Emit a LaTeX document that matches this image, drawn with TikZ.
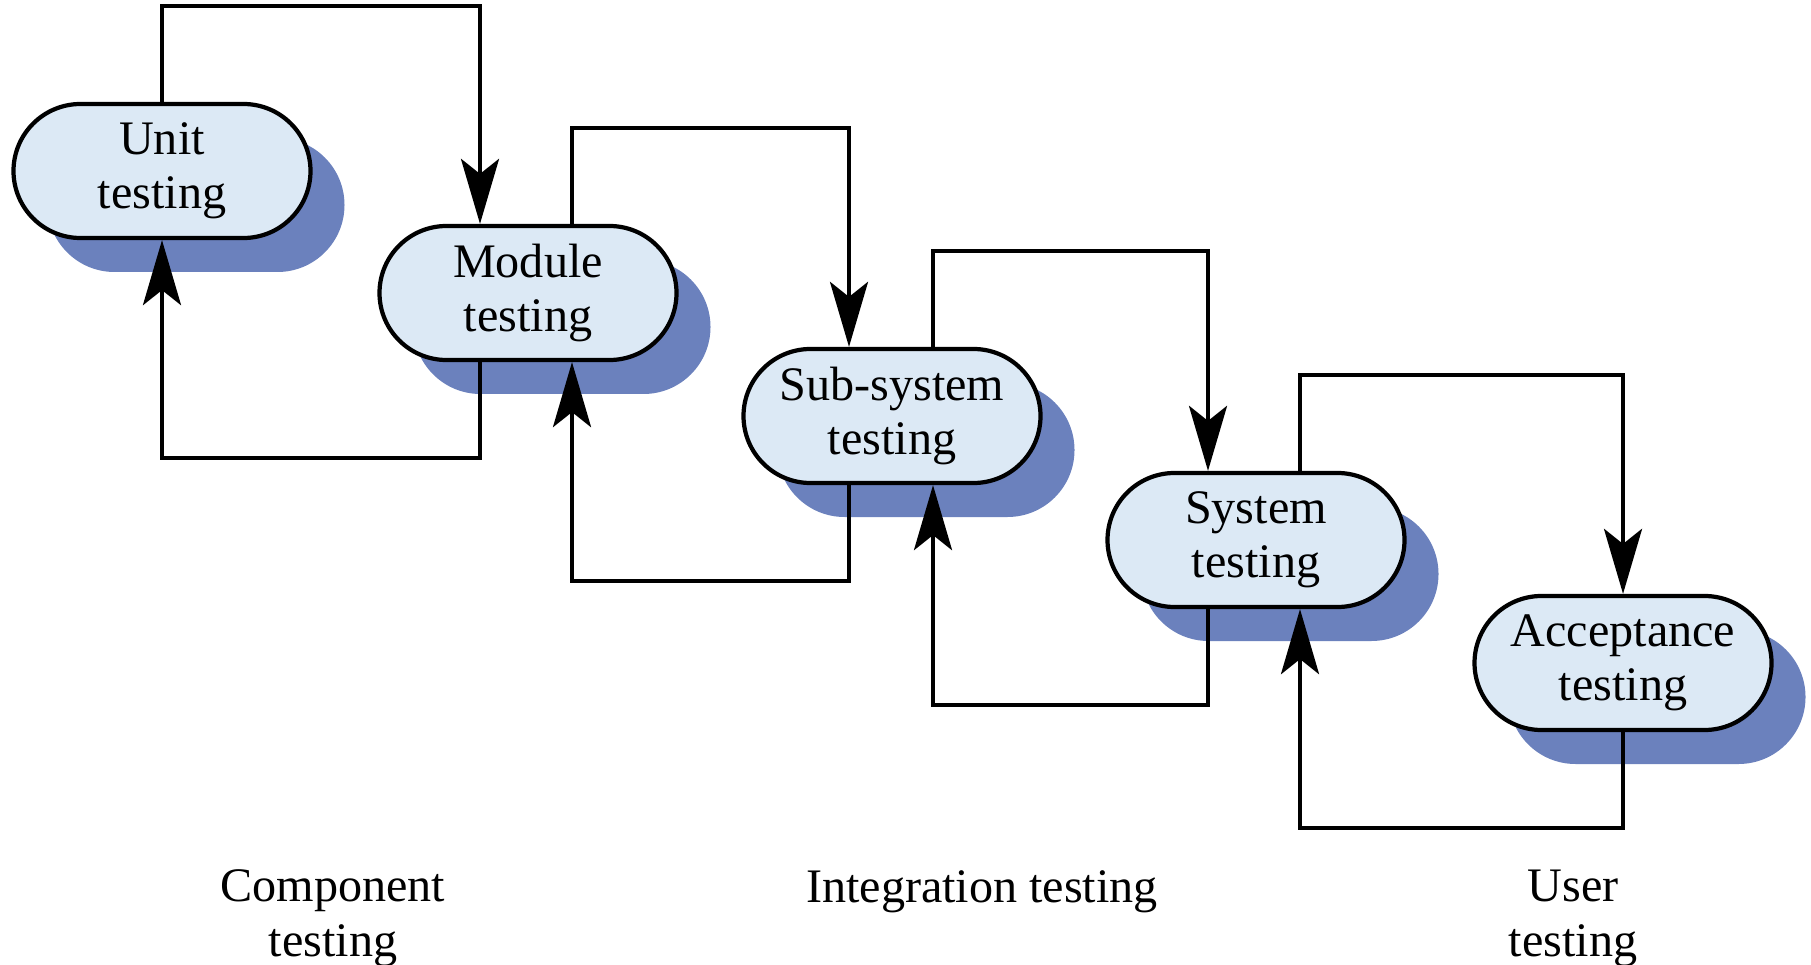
\documentclass[tikz,border=0pt]{standalone}
\usepackage{fontspec}
\setmainfont{Liberation Serif}
\usetikzlibrary{arrows.meta,shadows}

\definecolor{stagefill}{RGB}{220,233,245}
\definecolor{stageshadow}{RGB}{107,129,189}

\tikzset{
  stage/.style={draw, line width=1.2pt, fill=stagefill, rectangle,
    rounded corners=6.7mm, minimum width=29.7mm, minimum height=13.4mm,
    align=center, font=\fontsize{13.7}{15.4}\selectfont,
    drop shadow={shadow xshift=3.4mm, shadow yshift=-3.4mm,
      fill=stageshadow, opacity=1}},
  flow/.style={line width=1.2pt, -{Stealth[length=6.5mm, width=3.8mm, inset=1.5mm]}},
  phase/.style={align=center, font=\fontsize{13.7}{15.4}\selectfont}
}

\begin{document}
\begin{tikzpicture}
    \useasboundingbox (0,0) rectangle (18.11,-9.65);

    % testing stages
    \node[stage] (unit) at (1.62,-1.71) {Unit\\testing};
    \node[stage] (module) at (5.28,-2.93) {Module\\testing};
    \node[stage] (subsys) at (8.92,-4.16) {Sub-system\\testing};
    \node[stage] (system) at (12.56,-5.40) {System\\testing};
    \node[stage] (accept) at (16.23,-6.63) {Acceptance\\testing};

    % forward to the next stage
    \draw[flow] (unit.north) -- ++(0,0.96) -| ([xshift=-4.8mm]module.north);
    \draw[flow] ([xshift=4.4mm]module.north) -- ++(0,0.96) -| ([xshift=-4.3mm]subsys.north);
    \draw[flow] ([xshift=4.1mm]subsys.north) -- ++(0,0.96) -| ([xshift=-4.8mm]system.north);
    \draw[flow] ([xshift=4.4mm]system.north) -- ++(0,0.96) -| (accept.north);

    % back to the previous stage
    \draw[flow] ([xshift=-4.8mm]module.south) -- ++(0,-0.96) -| (unit.south);
    \draw[flow] ([xshift=-4.3mm]subsys.south) -- ++(0,-0.96) -| ([xshift=4.4mm]module.south);
    \draw[flow] ([xshift=-4.8mm]system.south) -- ++(0,-0.96) -| ([xshift=4.1mm]subsys.south);
    \draw[flow] (accept.south) -- ++(0,-0.96) -| ([xshift=4.4mm]system.south);

    % phases (base = last line)
    \node[phase, anchor=base] (component) at (3.33,-9.56) {Component\\testing};
    \node[phase, anchor=base] (integration) at (9.82,-9.02) {Integration testing};
    \node[phase, anchor=base] (user) at (15.73,-9.56) {User\\testing};
\end{tikzpicture}
\end{document}
